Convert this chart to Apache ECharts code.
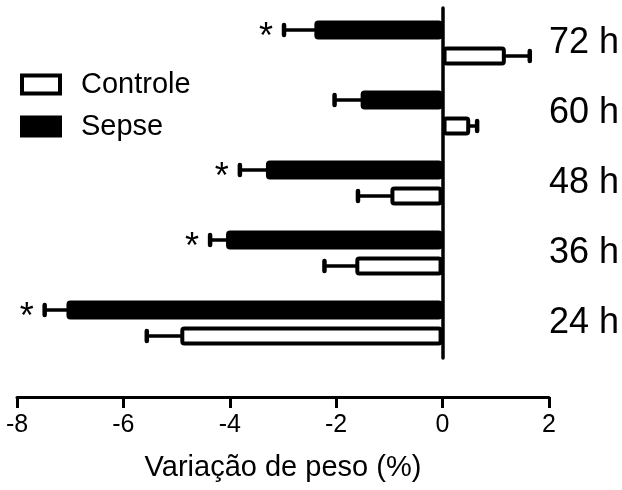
<!DOCTYPE html>
<html>
<head>
<meta charset="utf-8">
<script src="https://cdn.jsdelivr.net/npm/echarts@6/dist/echarts.min.js"></script>
<style>
  html, body { margin: 0; padding: 0; background: #fff; }
  #chart { width: 622px; height: 490px; }
</style>
</head>
<body>
<div id="chart"></div>
<script>
// Weight change (%) per time point, mean and SEM
const categories = ['24 h', '36 h', '48 h', '60 h', '72 h'];
const controleMean = [-4.93, -1.64, -0.98, 0.52, 1.19];
const controleSem = [0.63, 0.58, 0.61, 0.13, 0.45];
const sepseMean = [-7.07, -4.07, -3.32, -1.54, -2.41];
const sepseSem = [0.41, 0.30, 0.49, 0.49, 0.57];
const sepseSignificant = [true, true, true, false, true];
const xMin = -8, xMax = 2, xStep = 2;

const FONT = '"Liberation Sans", Arial, sans-serif';
const BAR_W = 19;
const BAR_BORDER = 4;
const BAR_GAP = 7;
const HALF_PITCH = (BAR_W + BAR_GAP) / 2;

// Error bar (and optional asterisk) drawn outward from the bar end
function errorBarSeries(name, means, sems, flags, offset) {
  const data = means.map((m, i) => [m, i, sems[i], flags ? (flags[i] ? 1 : 0) : 0]);
  return {
    type: 'custom',
    name: name + ' SEM',
    coordinateSystem: 'cartesian2d',
    encode: { x: 0, y: 1 },
    z: 3,
    silent: true,
    data: data,
    renderItem: function (params, api) {
      const mean = api.value(0);
      const idx = api.value(1);
      const sem = api.value(2);
      const sig = api.value(3);
      const end = mean + (mean >= 0 ? sem : -sem);
      const p0 = api.coord([mean, idx]);
      const p1 = api.coord([end, idx]);
      const y = p0[1] + offset;
      const style = { stroke: '#000', lineWidth: 3.5, lineCap: 'round' };
      const children = [
        { type: 'line', shape: { x1: p0[0], y1: y, x2: p1[0], y2: y }, style: style },
        { type: 'line', shape: { x1: p1[0], y1: y - 5, x2: p1[0], y2: y + 5 }, style: { stroke: '#000', lineWidth: 4.5, lineCap: 'round' } }
      ];
      if (sig) {
        children.push({
          type: 'text',
          style: {
            text: '*', x: p1[0] - 11, y: y + 8,
            align: 'right', verticalAlign: 'middle',
            fontSize: 36, fontFamily: FONT, fill: '#000'
          }
        });
      }
      return { type: 'group', children: children };
    }
  };
}

const chart = echarts.init(document.getElementById('chart'), null, { renderer: 'canvas' });

chart.setOption({
  animation: false,
  backgroundColor: '#fff',
  textStyle: { fontFamily: FONT, color: '#000' },
  grid: { left: 17, right: 73, top: 8, bottom: 132, containLabel: false },
  legend: {
    orient: 'vertical',
    left: 15,
    top: 65,
    itemWidth: 38,
    itemHeight: 18,
    itemGap: 13,
    icon: 'rect',
    textStyle: { fontSize: 29, fontFamily: FONT, color: '#000', padding: [0, 0, 0, 16] },
    data: [
      { name: 'Controle', itemStyle: { color: '#fff', borderColor: '#000', borderWidth: 4 } },
      { name: 'Sepse', itemStyle: { color: '#000', borderColor: '#000', borderWidth: 4 } }
    ]
  },
  xAxis: {
    type: 'value',
    min: xMin,
    max: xMax,
    interval: xStep,
    offset: 39,
    name: 'Variação de peso (%)',
    nameLocation: 'middle',
    nameGap: 56,
    nameTextStyle: { fontSize: 29, fontFamily: FONT, color: '#000' },
    axisLine: { show: true, onZero: false, lineStyle: { color: '#000', width: 3 } },
    axisTick: { show: true, length: 11, lineStyle: { color: '#000', width: 3 } },
    axisLabel: { fontSize: 25, fontFamily: FONT, color: '#000', margin: 16 },
    splitLine: { show: false }
  },
  yAxis: [
    {
      type: 'category',
      data: categories,
      axisLine: { show: true, onZero: true, lineStyle: { color: '#000', width: 3.5 } },
      axisTick: { show: false },
      axisLabel: { show: false },
      splitLine: { show: false }
    },
    {
      type: 'category',
      data: categories,
      position: 'right',
      axisLine: { show: false },
      axisTick: { show: false },
      axisLabel: { fontSize: 36, fontFamily: FONT, color: '#000', margin: 0 },
      splitLine: { show: false }
    }
  ],
  series: [
    {
      name: 'Sepse',
      type: 'bar',
      data: sepseMean,
      barWidth: BAR_W,
      barGap: (BAR_GAP / BAR_W * 100) + '%',
      itemStyle: { color: '#000', borderColor: '#000', borderWidth: BAR_BORDER, borderRadius: 2 }
    },
    {
      name: 'Controle',
      type: 'bar',
      data: controleMean,
      barWidth: BAR_W,
      barGap: (BAR_GAP / BAR_W * 100) + '%',
      itemStyle: { color: '#fff', borderColor: '#000', borderWidth: BAR_BORDER, borderRadius: 2 }
    },
    errorBarSeries('Sepse', sepseMean, sepseSem, sepseSignificant, -HALF_PITCH),
    errorBarSeries('Controle', controleMean, controleSem, null, HALF_PITCH)
  ]
});
</script>
</body>
</html>
